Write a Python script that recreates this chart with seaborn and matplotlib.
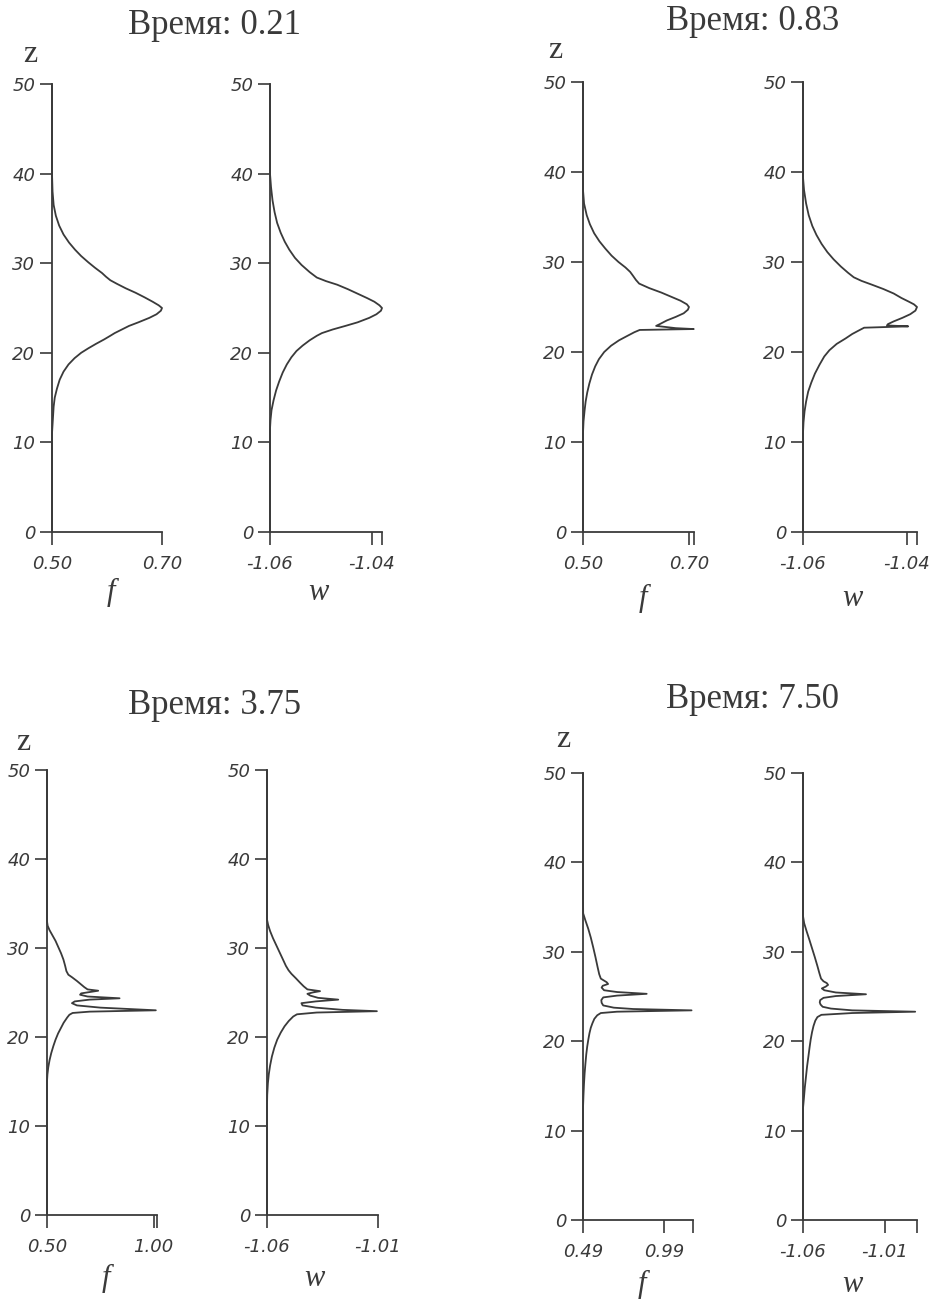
import numpy as np
import matplotlib
matplotlib.use("Agg")
import matplotlib.pyplot as plt
import seaborn as sns

sns.set_theme(style="ticks")
plt.rcParams["font.family"] = ["DejaVu Sans"]

INK = "#3a3a3a"
W_PX, H_PX = 932, 1299

# ---- data: z (vertical) and the profiles f, w ----
times = ["0.21", "0.83", "3.75", "7.50"]

z_f_021 = [50, 40, 38, 36.5, 35.3, 34.2, 33.2, 32.3, 31.5, 30.8, 30.1, 29.5, 28.9, 28.5, 28.1, 27.7, 27.2,
           26.7, 26.2, 25.7, 25.3, 25.0, 24.7, 24.3, 23.9, 23.4, 23.0, 22.6, 22.2, 21.9, 21.5, 21.0, 20.5,
           20.0, 19.4, 18.7, 17.9, 17.0, 16.0, 15.0, 14.0, 13.0, 12.0, 11.0, 0]
f_021 = [0.50, 0.50, 0.501, 0.503, 0.507, 0.513, 0.521, 0.531, 0.542, 0.553, 0.566, 0.578, 0.591, 0.598,
         0.606, 0.618, 0.634, 0.652, 0.668, 0.683, 0.694, 0.70, 0.698, 0.690, 0.677, 0.657, 0.640, 0.627,
         0.614, 0.606, 0.595, 0.580, 0.566, 0.553, 0.541, 0.530, 0.521, 0.514, 0.509, 0.505, 0.503, 0.502,
         0.501, 0.50, 0.50]
z_w_021 = [50, 40, 38.5, 37, 35.7, 34.5, 33.4, 32.4, 31.5, 30.6, 29.8, 29.0, 28.4, 28.0, 27.6, 27.1, 26.6,
           26.1, 25.7, 25.3, 25.0, 24.7, 24.3, 23.9, 23.4, 23.0, 22.6, 22.2, 21.9, 21.4, 20.8, 20.2, 19.5,
           18.7, 17.8, 16.8, 15.8, 14.7, 13.6, 12.5, 11.5, 0]
w_021 = [-1.06, -1.06, -1.0598, -1.0595, -1.0591, -1.0586, -1.0579, -1.0571, -1.0562, -1.0551, -1.0538,
         -1.0522, -1.0508, -1.049, -1.0468, -1.0447, -1.0428, -1.0409, -1.0395, -1.0385, -1.038, -1.0382,
         -1.0391, -1.0405, -1.0428, -1.0452, -1.0477, -1.0498, -1.0508, -1.0522, -1.0536, -1.0548, -1.0558,
         -1.0567, -1.0575, -1.0582, -1.0588, -1.0593, -1.0597, -1.0599, -1.06, -1.06]

z_f_083 = [50, 38, 36.5, 35.2, 34.2, 33.2, 32.3, 31.5, 30.7, 30.0, 29.4, 28.9, 28.5, 28.0, 27.6, 27.1, 26.6,
           26.1, 25.7, 25.3, 25.0, 24.7, 24.3, 23.9, 23.5, 23.1, 22.9, 22.65, 22.55, 22.45, 22.2, 21.8, 21.3,
           20.7, 20.0, 19.2, 18.4, 17.5, 16.5, 15.5, 14.5, 13.5, 12.3, 11, 0]
f_083 = [0.50, 0.50, 0.502, 0.507, 0.513, 0.521, 0.531, 0.542, 0.554, 0.567, 0.58, 0.589, 0.594, 0.600,
         0.606, 0.625, 0.648, 0.668, 0.684, 0.696, 0.700, 0.698, 0.690, 0.675, 0.658, 0.645, 0.638, 0.675,
         0.709, 0.607, 0.597, 0.584, 0.568, 0.553, 0.540, 0.530, 0.523, 0.517, 0.512, 0.508, 0.505, 0.503,
         0.501, 0.50, 0.50]
z_w_083 = [50, 39.4, 38, 36.5, 35.2, 34, 33, 32, 31.1, 30.3, 29.5, 28.8, 28.3, 27.9, 27.5, 27.0, 26.5, 26.0,
           25.6, 25.3, 25.0, 24.6, 24.2, 23.8, 23.4, 23.1, 22.95, 22.85, 22.7, 22.4, 22.0, 21.5, 20.9, 20.2,
           19.5, 18.6, 17.6, 16.6, 15.6, 14.5, 13.4, 12.2, 11, 0]
w_083 = [-1.06, -1.06, -1.0598, -1.0594, -1.0589, -1.0582, -1.0574, -1.0564, -1.0553, -1.0541, -1.0527,
         -1.0513, -1.0502, -1.0487, -1.0468, -1.0445, -1.0425, -1.041, -1.0396, -1.0386, -1.038, -1.0383,
         -1.0393, -1.0408, -1.0425, -1.0436, -1.0438, -1.0397, -1.0482, -1.0492, -1.0505, -1.0518, -1.0535,
         -1.0549, -1.0559, -1.0568, -1.0577, -1.0584, -1.059, -1.0594, -1.0597, -1.0599, -1.06, -1.06]

z_f_375 = [50, 33, 32.5, 32.0, 31.4, 30.8, 30.1, 29.4, 28.7, 28.0, 27.4, 27.0, 26.7, 26.3, 25.9, 25.6, 25.35,
           25.2, 25.05, 24.9, 24.75, 24.55, 24.35, 24.2, 24.0, 23.8, 23.55, 23.3, 23.0, 22.85, 22.7, 22.5,
           22.2, 21.6, 21.0, 20.4, 19.7, 19.0, 18.2, 17.4, 16.6, 15.8, 15.0, 0]
f_375 = [0.50, 0.50, 0.503, 0.512, 0.526, 0.540, 0.553, 0.566, 0.577, 0.585, 0.591, 0.60, 0.618, 0.640,
         0.660, 0.675, 0.69, 0.74, 0.70, 0.66, 0.655, 0.69, 0.84, 0.70, 0.63, 0.617, 0.64, 0.75, 1.01, 0.70,
         0.62, 0.605, 0.595, 0.578, 0.565, 0.552, 0.54, 0.53, 0.52, 0.512, 0.506, 0.502, 0.50, 0.50]
z_w_375 = [50, 33.2, 32.6, 31.9, 31.1, 30.3, 29.5, 28.7, 28.0, 27.5, 27.1, 26.6, 26.1, 25.7, 25.35, 25.15,
           25.0, 24.85, 24.65, 24.4, 24.2, 24.0, 23.8, 23.55, 23.3, 23.05, 22.9, 22.75, 22.55, 22.3, 21.8,
           21.2, 20.5, 19.7, 18.8, 17.8, 16.8, 15.8, 14.8, 13.5, 12.2, 0]
w_375 = [-1.06, -1.06, -1.0595, -1.0586, -1.0573, -1.0558, -1.0543, -1.0528, -1.0515, -1.0503, -1.0490,
         -1.0470, -1.0451, -1.0435, -1.0418, -1.0361, -1.0395, -1.0418, -1.0405, -1.0370, -1.0279, -1.0380,
         -1.0445, -1.0440, -1.0380, -1.0260, -1.0105, -1.0376, -1.0465, -1.0482, -1.0502, -1.0521, -1.0538,
         -1.0554, -1.0567, -1.0578, -1.0586, -1.0592, -1.0596, -1.0599, -1.06, -1.06]

z_f_750 = [50, 36, 34.3, 33.5, 32.6, 31.6, 30.5, 29.4, 28.3, 27.5, 27.0, 26.8, 26.6, 26.4, 26.2, 26.0, 25.7,
           25.5, 25.3, 25.1, 24.9, 24.6, 24.3, 24.0, 23.75, 23.6, 23.45, 23.3, 23.15, 22.9, 22.5, 22.0, 21.5,
           20.9, 20.2, 19.4, 18.5, 17.5, 16.4, 15.2, 14.0, 12.5, 0]
f_750 = [0.49, 0.49, 0.491, 0.505, 0.522, 0.538, 0.553, 0.567, 0.58, 0.59, 0.60, 0.618, 0.636, 0.645,
         0.612, 0.605, 0.62, 0.70, 0.883, 0.70, 0.615, 0.603, 0.605, 0.615, 0.68, 0.80, 1.16, 0.70, 0.60,
         0.578, 0.56, 0.548, 0.538, 0.53, 0.523, 0.516, 0.51, 0.505, 0.50, 0.496, 0.493, 0.49, 0.49]
z_w_750 = [50, 34.0, 33.2, 32.3, 31.4, 30.4, 29.4, 28.4, 27.6, 27.0, 26.7, 26.5, 26.3, 26.1, 25.9, 25.7,
           25.45, 25.25, 25.05, 24.85, 24.6, 24.35, 24.1, 23.85, 23.65, 23.45, 23.3, 23.15, 22.95, 22.7,
           22.3, 21.7, 21.0, 20.2, 19.3, 18.3, 17.2, 16.0, 14.8, 13.5, 12.5, 0]
w_750 = [-1.06, -1.06, -1.0593, -1.0578, -1.0562, -1.0545, -1.0528, -1.0512, -1.05, -1.049, -1.0475,
         -1.0455, -1.0447, -1.0462, -1.0485, -1.047, -1.040, -1.0216, -1.040, -1.0475, -1.0495, -1.0498,
         -1.0493, -1.048, -1.043, -1.030, -0.9916, -1.030, -1.0488, -1.0512, -1.0525, -1.0536, -1.0545,
         -1.0553, -1.056, -1.0567, -1.0575, -1.0582, -1.0589, -1.0595, -1.06, -1.06]

# x axis: labelled ticks and the far end of each axis
f_ticks = [(0.50, 0.70), (0.50, 0.70), (0.50, 1.00), (0.49, 0.99)]
f_tick_labels = [("0.50", "0.70"), ("0.50", "0.70"), ("0.50", "1.00"), ("0.49", "0.99")]
f_end = [0.70, 0.7095, 1.0155, 1.169]
w_ticks = [(-1.06, -1.04), (-1.06, -1.04), (-1.06, -1.01), (-1.06, -1.01)]
w_tick_labels = [("-1.06", "-1.04"), ("-1.06", "-1.04"), ("-1.06", "-1.01"), ("-1.06", "-1.01")]
w_end = [-1.038, -1.038, -1.01, -0.9905]
z_ticks = [0, 10, 20, 30, 40, 50]

curves_f = [(z_f_021, f_021), (z_f_083, f_083), (z_f_375, f_375), (z_f_750, f_750)]
curves_w = [(z_w_021, w_021), (z_w_083, w_083), (z_w_375, w_375), (z_w_750, w_750)]

# layout in pixels
layout = [
    dict(fl=52, fr=162, wl=270, wr=382, top=84, bot=532, title=(215, 25), z=(30, 55), lab=592),
    dict(fl=583, fr=694, wl=803, wr=917, top=82, bot=532, title=(753, 22), z=(555, 50), lab=598),
    dict(fl=47, fr=157, wl=267, wr=378, top=770, bot=1215, title=(215, 705), z=(23, 742), lab=1278),
    dict(fl=583, fr=693, wl=803, wr=917, top=773, bot=1220, title=(753, 700), z=(563, 739), lab=1284),
]


def rect(l, r, t, b):
    return [l / W_PX, 1 - b / H_PX, (r - l) / W_PX, (b - t) / H_PX]


def fig_xy(x, y):
    return x / W_PX, 1 - y / H_PX


def style_axis(ax, xmin, xend, ticks, labels):
    ax.set_xlim(xmin, xend)
    ax.set_ylim(0, 50)
    for s in ["top", "right"]:
        ax.spines[s].set_visible(False)
    for s in ["left", "bottom"]:
        ax.spines[s].set_color(INK)
        ax.spines[s].set_linewidth(1.3)
    ax.set_xticks(list(ticks))
    ax.set_xticklabels(list(labels))
    if abs(xend - ticks[1]) > 1e-6:
        ax.set_xticks([xend], minor=True)
    ax.set_yticks(z_ticks)
    ax.set_yticklabels([str(v) for v in z_ticks])
    ax.tick_params(axis="both", which="both", direction="out", length=9, width=1.2,
                   color=INK, labelcolor=INK, labelsize=13)
    ax.tick_params(axis="x", pad=7.5)
    ax.tick_params(axis="y", pad=3)
    for t in ax.get_xticklabels() + ax.get_yticklabels():
        t.set_fontstyle("italic")
    ax.set_xlabel("")
    ax.set_ylabel("")
    ax.set_facecolor("white")
    ax.grid(False)


fig = plt.figure(figsize=(W_PX / 100, H_PX / 100), dpi=100)
fig.patch.set_facecolor("white")

for i, lay in enumerate(layout):
    ax_f = fig.add_axes(rect(lay["fl"], lay["fr"], lay["top"], lay["bot"]))
    ax_w = fig.add_axes(rect(lay["wl"], lay["wr"], lay["top"], lay["bot"]))

    zf, fv = curves_f[i]
    zw, wv = curves_w[i]
    sns.lineplot(x=fv, y=zf, sort=False, estimator=None, ax=ax_f, color=INK, lw=1.3, legend=False)
    sns.lineplot(x=wv, y=zw, sort=False, estimator=None, ax=ax_w, color=INK, lw=1.3, legend=False)
    for ax in (ax_f, ax_w):
        for ln in ax.lines:
            ln.set_clip_on(False)
            ln.set_solid_joinstyle("round")

    style_axis(ax_f, f_ticks[i][0], f_end[i], f_ticks[i], f_tick_labels[i])
    style_axis(ax_w, w_ticks[i][0], w_end[i], w_ticks[i], w_tick_labels[i])

    tx, ty = fig_xy(*lay["title"])
    fig.text(tx, ty, f"Время: {times[i]}", ha="center", va="center",
             family="Liberation Serif", fontsize=25, color=INK)
    zx, zy = fig_xy(*lay["z"])
    fig.text(zx, zy, "z", ha="center", va="center", family="Liberation Serif",
             fontsize=23, color=INK)
    fx, fy = fig_xy((lay["fl"] + lay["fr"]) / 2 + 4, lay["lab"])
    fig.text(fx, fy, "f", ha="center", va="center", family="Liberation Serif",
             style="italic", fontsize=22, color=INK)
    wx, wy = fig_xy((lay["wl"] + lay["wr"]) / 2 - 8, lay["lab"])
    fig.text(wx, wy, "w", ha="center", va="center", family="Liberation Serif",
             style="italic", fontsize=22, color=INK)

fig.savefig("out.png", dpi=100, facecolor="white")
